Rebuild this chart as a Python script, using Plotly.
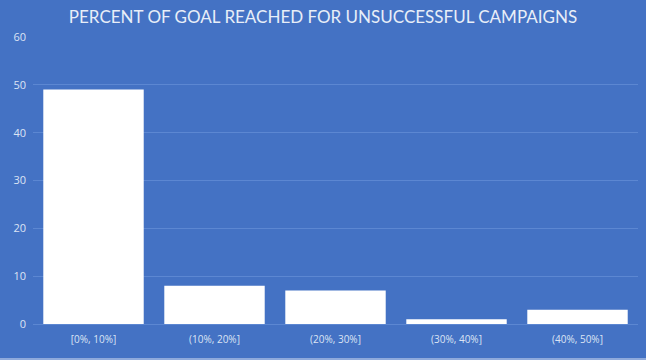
import plotly.graph_objects as go

categories = ["[0%, 10%]", "(10%, 20%]", "(20%, 30%]", "(30%, 40%]", "(40%, 50%]"]
counts = [49, 8, 7, 1, 3]
title_text = "PERCENT OF GOAL REACHED FOR UNSUCCESSFUL CAMPAIGNS"

bg = "#4472C4"
fig = go.Figure(go.Bar(
    x=categories, y=counts,
    marker=dict(color="#FFFFFF", line=dict(width=0)),
    hoverinfo="x+y",
))
fig.update_layout(
    width=646, height=360,
    paper_bgcolor=bg, plot_bgcolor=bg,
    margin=dict(l=33, r=8, t=37, b=36, autoexpand=False),
    bargap=0.17,
    showlegend=False,
    title=dict(text=title_text, x=0.5, xanchor="center", y=0.953, yanchor="middle",
               font=dict(family="Lato, Open Sans, sans-serif", size=17, color="#E8EEF8")),
    font=dict(family="Open Sans, Lato, sans-serif", color="#DCE4F4"),
)
fig.update_yaxes(range=[0, 60], dtick=10, showgrid=True, gridcolor="#5C87D2", gridwidth=1,
                 zeroline=True, zerolinecolor="#5C87D2", zerolinewidth=1,
                 tickfont=dict(size=11, color="#DCE4F4"), ticks="", ticklabelstandoff=6,
                 showline=False, fixedrange=True)
fig.update_xaxes(showgrid=False, showline=False, tickfont=dict(size=10, color="#DCE4F4"),
                 ticks="", ticklabelstandoff=8, fixedrange=True)
# light strip along the bottom edge of the picture
fig.add_shape(type="line", xref="paper", yref="paper", x0=-0.06, x1=1.02, y0=-0.122, y1=-0.122,
              line=dict(color="#8FAADC", width=2))
fig.write_html("out.html", config={"displayModeBar": False},
               post_script="document.body.style.margin='0';document.body.style.padding='0';")
